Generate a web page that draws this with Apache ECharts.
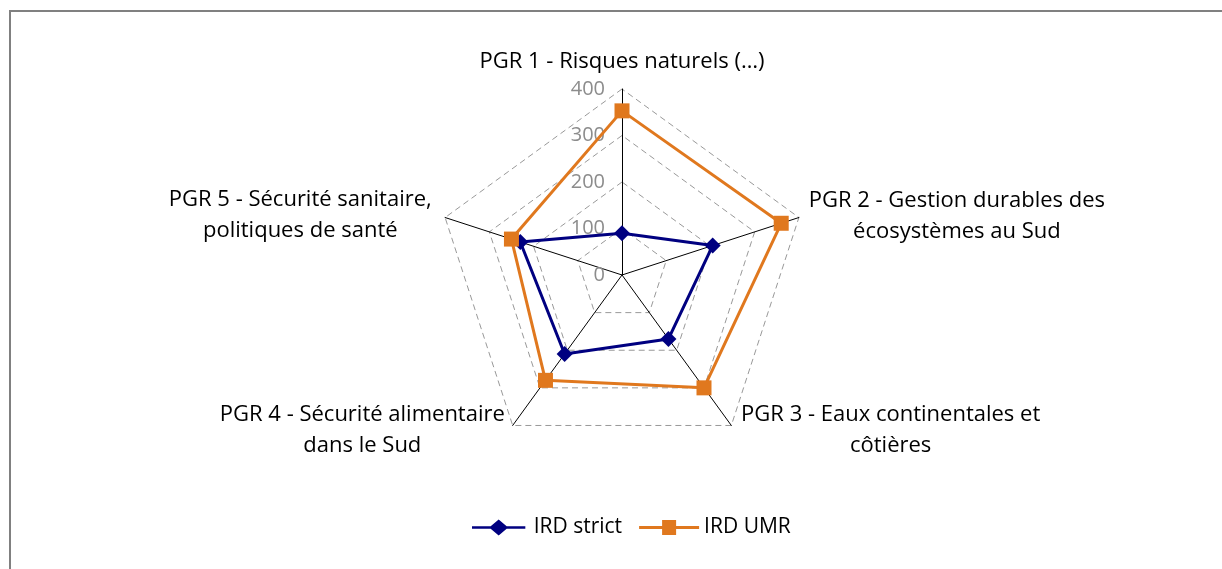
<!DOCTYPE html>
<html>
<head>
<meta charset="utf-8">
<script src="https://cdn.jsdelivr.net/npm/echarts@6/dist/echarts.min.js"></script>
<style>html,body{margin:0;padding:0;background:#fff}#c{width:1222px;height:569px}</style>
</head>
<body>
<div id="c"></div>
<script>
const categories = [
  "PGR 1 - Risques naturels (…)",
  "PGR 2 - Gestion durables des\nécosystèmes au Sud",
  "PGR 3 - Eaux continentales et\ncôtières",
  "PGR 4 - Sécurité alimentaire\ndans le Sud",
  "PGR 5 - Sécurité sanitaire,\npolitiques de santé"
];
const irdStrict = [90, 205, 170, 210, 230];
const irdUMR = [353, 360, 300, 280, 250];
const axisMax = 400;
const seriesNames = ["IRD strict", "IRD UMR"];

const FONT = "Open Sans";
const NAME_SIZE = 22;
const nameGaps = [12, 10, 4, 4, 14];
const namePads = [[0, 0, 0, 0], [4, 0, 0, 0], [4, 0, 0, 7], [4, 5, 0, 0], [4, 0, 0, 0]];

// ECharts radar goes counter-clockwise; reorder so categories run clockwise like the reference
const order = [0, 4, 3, 2, 1];
const ro = arr => order.map(i => arr[i]);

// measure widest line so each multi-line name is centred inside a box flush with its anchor
const cv = document.createElement("canvas").getContext("2d");
cv.font = NAME_SIZE + "px '" + FONT + "'";
const rich = {};
categories.forEach((c, i) => {
  const w = Math.max.apply(null, c.split("\n").map(l => cv.measureText(l).width));
  rich["a" + i] = { width: Math.ceil(w), align: "center", fontSize: NAME_SIZE, lineHeight: 31, fontFamily: FONT, color: "#000" };
});

const indicator = order.map(i => {
  const o = { name: categories[i], max: axisMax, min: 0, nameGap: nameGaps[i], nameTextStyle: { padding: namePads[i] } };
  if (i === 0) o.axisLabel = { show: true };
  return o;
});

const diamondIcon = "path://M0,6.5L21,6.5L30,-1L39,6.5L60,6.5L60,9.5L39,9.5L30,17L21,9.5L0,9.5Z";
const squareIcon = "path://M0,6.5L23,6.5L23,0.5L37,0.5L37,6.5L60,6.5L60,9.5L37,9.5L37,15.5L23,15.5L23,9.5L0,9.5Z";

const chart = echarts.init(document.getElementById("c"));
chart.setOption({
  backgroundColor: "#fff",
  animation: false,
  graphic: [{
    type: "rect", shape: { x: 10, y: 11, width: 1400, height: 800 },
    style: { fill: "none", stroke: "#808080", lineWidth: 2 }, silent: true, z: -1
  }],
  legend: {
    data: [{ name: seriesNames[0], icon: diamondIcon }, { name: seriesNames[1], icon: squareIcon }],
    bottom: 26,
    left: 467,
    itemWidth: 60,
    itemHeight: 16,
    itemGap: 17,
    textStyle: { fontFamily: FONT, fontSize: 21, color: "#000" }
  },
  radar: {
    center: [622, 275],
    radius: 186,
    startAngle: 90,
    splitNumber: 4,
    shape: "polygon",
    indicator: indicator,
    axisName: {
      color: "#000", fontFamily: FONT, fontSize: NAME_SIZE, rich: rich,
      formatter: function (v) {
        const i = categories.indexOf(v);
        return v.split("\n").map(l => "{a" + i + "|" + l + "}").join("\n");
      }
    },
    axisLine: { lineStyle: { color: "#000", width: 1 } },
    splitLine: { lineStyle: { color: "#999", width: 1, type: [6, 4] } },
    splitArea: { show: false },
    axisLabel: { show: false, color: "#8c8c8c", fontFamily: FONT, fontSize: 20, margin: 17, align: "right" }
  },
  series: [{
    type: "radar",
    data: [
      { name: seriesNames[0], value: ro(irdStrict), symbol: "diamond", symbolSize: 16,
        itemStyle: { color: "#000080" }, lineStyle: { color: "#000080", width: 3 } },
      { name: seriesNames[1], value: ro(irdUMR), symbol: "rect", symbolSize: 15,
        itemStyle: { color: "#E0781E" }, lineStyle: { color: "#E0781E", width: 3 } }
    ]
  }]
});
</script>
</body>
</html>
